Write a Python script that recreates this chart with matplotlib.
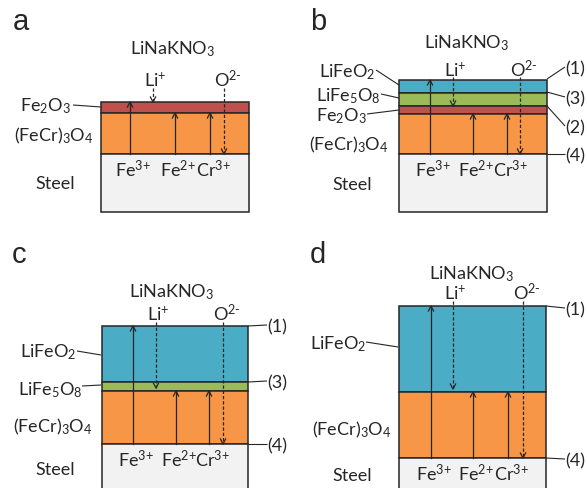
import matplotlib.pyplot as plt
from matplotlib.patches import Rectangle

plt.rcParams['font.family'] = ['Lato', 'DejaVu Sans']
plt.rcParams['mathtext.fontset'] = 'custom'
plt.rcParams['mathtext.rm'] = 'Lato'
plt.rcParams['mathtext.it'] = 'Lato:italic'
plt.rcParams['mathtext.bf'] = 'Lato:bold'

INK = '#262626'
FS = 13

layer_colors = {
    'LiFeO2': '#4BACC6',
    'LiFe5O8': '#9BBB59',
    'Fe2O3': '#C0504D',
    'FeCr3O4': '#F79646',
    'Steel': '#F2F2F2',
}

# scale thickness of each layer, outermost first
layers_a = ['Fe2O3', 'FeCr3O4', 'Steel']
depth_a = [11, 41, 58]
layers_b = ['LiFeO2', 'LiFe5O8', 'Fe2O3', 'FeCr3O4', 'Steel']
depth_b = [13, 13, 8, 40, 58]
layers_c = ['LiFeO2', 'LiFe5O8', 'FeCr3O4', 'Steel']
depth_c = [56, 9, 53, 60]
layers_d = ['LiFeO2', 'FeCr3O4', 'Steel']
depth_d = [86, 66, 40]

ion_labels = ['Fe$^{\\text{3+}}$', 'Fe$^{\\text{2+}}$', 'Cr$^{\\text{3+}}$']


def txt(ax, x, y, s, ha='center', size=FS, **kw):
    ax.text(x, y, s, ha=ha, va='baseline', fontsize=size, color=INK, **kw)


def leader(ax, x0, y0, x1, y1):
    ax.plot([x0, x1], [y0, y1], color=INK, lw=0.8, solid_capstyle='butt')


def arrow(ax, x, y0, y1, dashed=False):
    ls = (0, (2.6, 1.6)) if dashed else '-'
    ax.plot([x, x], [y0, y1], color=INK, lw=0.9, ls=ls)
    d = 1 if y1 > y0 else -1
    ax.plot([x - 2.6, x, x + 2.6], [y1 - d * 5, y1, y1 - d * 5],
            color=INK, lw=0.9)


def stack(ax, left, right, top, names, depths):
    # draw the layers and return the y of each interface
    edges = [top]
    for name, d in zip(names, depths):
        y = edges[-1]
        ax.add_patch(Rectangle((left, y), right - left, d,
                               facecolor=layer_colors[name],
                               edgecolor=INK, lw=1.1))
        edges.append(y + d)
    return edges


def ions(ax, edges, names, xs, y_lab, y_start, li_stop, lix, ox):
    steel_top = edges[names.index('Steel')]
    spinel_top = edges[names.index('FeCr3O4')]
    arrow(ax, xs[0], steel_top, edges[0])
    arrow(ax, xs[1], steel_top, spinel_top)
    arrow(ax, xs[2], steel_top, spinel_top)
    for x, s in zip(xs, ion_labels):
        txt(ax, x + 3, steel_top + 22, s)
    arrow(ax, lix, y_start, li_stop, dashed=True)
    arrow(ax, ox, y_start, steel_top, dashed=True)
    txt(ax, lix + 2, y_lab, 'Li$^{+}$')
    txt(ax, ox + 4, y_lab, 'O$^{\\text{2-}}$')


fig = plt.figure(figsize=(5.87, 4.89), dpi=100)
ax = fig.add_axes([0, 0, 1, 1])
ax.set_xlim(0, 587)
ax.set_ylim(489, 0)
ax.axis('off')

# a
e = stack(ax, 101, 249, 103, layers_a, depth_a)
txt(ax, 13, 30, 'a', ha='left', size=21, family='Liberation Sans')
txt(ax, 173, 54, 'LiNaKNO$_3$')
ions(ax, e, layers_a, [130, 175, 210], 87, 89, e[0], 153, 224)
txt(ax, 71, 111, 'Fe$_2$O$_3$', ha='right')
leader(ax, 73, 106, 101, 108)
txt(ax, 54, 141, '(FeCr)$_3$O$_4$')
txt(ax, 55, 189, 'Steel')

# b
e = stack(ax, 399, 547, 81, layers_b, depth_b)
txt(ax, 310, 30, 'b', ha='left', size=21, family='Liberation Sans')
txt(ax, 467, 48, 'LiNaKNO$_3$')
ions(ax, e, layers_b, [430, 473, 507], 77, 78, e[2], 453, 520)
txt(ax, 375, 77, 'LiFeO$_2$', ha='right')
leader(ax, 376, 71, 399, 86)
txt(ax, 380, 101, 'LiFe$_5$O$_8$', ha='right')
leader(ax, 381, 95, 399, 99)
txt(ax, 367, 121, 'Fe$_2$O$_3$', ha='right')
leader(ax, 367, 115, 399, 111)
txt(ax, 349, 150, '(FeCr)$_3$O$_4$')
txt(ax, 352, 190, 'Steel')
for y_from, y_to, s in [(80, 68, '(1)'), (93, 98, '(3)'), (107, 127, '(2)'),
                        (155, 155, '(4)')]:
    leader(ax, 547, y_from, 565, y_to)
    txt(ax, 565, y_to + 6, s, ha='left')

# c
e = stack(ax, 102, 248, 327, layers_c, depth_c)
txt(ax, 12, 263, 'c', ha='left', size=21, family='Liberation Sans')
txt(ax, 172, 297, 'LiNaKNO$_3$')
ions(ax, e, layers_c, [133, 176, 209], 321, 323, e[2] - 3, 156, 223)
txt(ax, 76, 357, 'LiFeO$_2$', ha='right')
leader(ax, 77, 352, 101, 356)
txt(ax, 82, 395, 'LiFe$_5$O$_8$', ha='right')
leader(ax, 82, 387, 101, 386)
txt(ax, 53, 432, '(FeCr)$_3$O$_4$')
txt(ax, 55, 475, 'Steel')
for y_from, y_to, s in [(327, 326, '(1)'), (383, 382, '(3)'), (445, 445, '(4)')]:
    leader(ax, 248, y_from, 267, y_to)
    txt(ax, 267, y_to + 6, s, ha='left')

# d
e = stack(ax, 399, 546, 307, layers_d, depth_d)
txt(ax, 310, 263, 'd', ha='left', size=21, family='Liberation Sans')
txt(ax, 472, 279, 'LiNaKNO$_3$')
ions(ax, e, layers_d, [431, 473, 508], 300, 302, e[1] - 3, 453, 523)
txt(ax, 366, 349, 'LiFeO$_2$', ha='right')
leader(ax, 366, 343, 398, 348)
txt(ax, 352, 435, '(FeCr)$_3$O$_4$')
txt(ax, 352, 481, 'Steel')
for y_from, y_to, s in [(307, 309, '(1)'), (459, 460, '(4)')]:
    leader(ax, 546, y_from, 565, y_to)
    txt(ax, 565, y_to + 6, s, ha='left')

fig.savefig('out.png', dpi=100)
